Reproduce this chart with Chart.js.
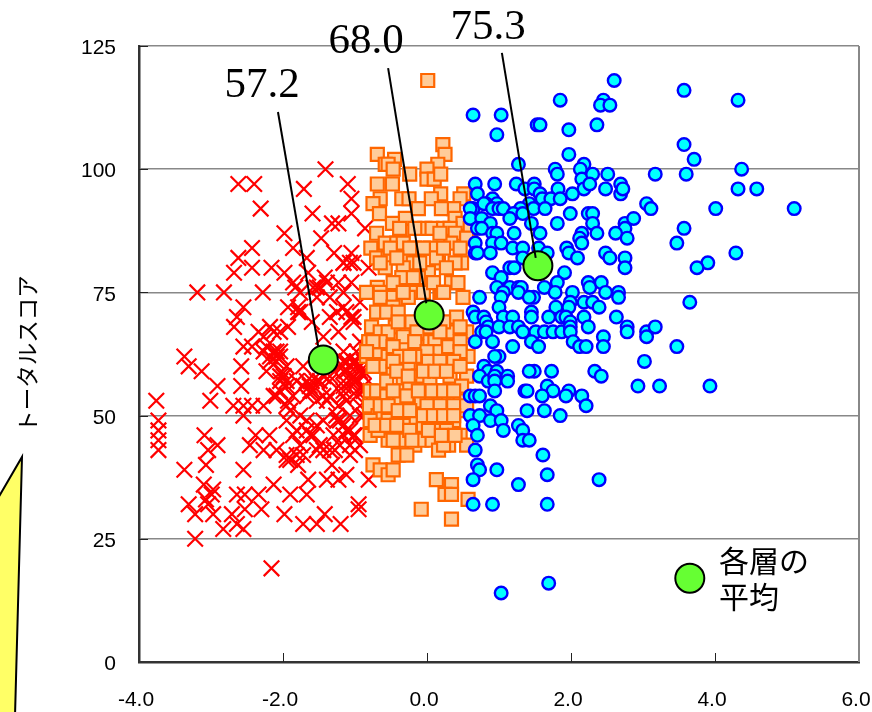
<!DOCTYPE html>
<html>
<head>
<meta charset="utf-8">
<style>
  html, body { margin: 0; padding: 0; background: #fff; overflow: hidden; }
  canvas { display: block; }
</style>
<script src="https://cdn.jsdelivr.net/npm/chart.js@4/dist/chart.umd.js"></script>
</head>
<body>
<canvas id="chart" width="872" height="712"></canvas>
<script>
// [ability, total score]
const lowGroup = [
  [-1.41,100],[-2.62,97],[-2.40,97],[-1.71,96],[-1.10,97],[-1.05,94],[-2.31,92],[-1.59,91],[-1.05,91],[-1.32,89],
  [-1.23,89],[-0.86,88],[-1.98,87],[-1.47,86],[-2.43,84],[-1.86,84],[-2.62,82],[-2.43,80],[-2.16,80],[-2.68,79],
  [-1.98,79],[-1.05,83],[-1.29,83],[-1.67,82],[-1.07,81],[-1.16,81],[-0.81,80],[-3.19,75],[-2.82,75],[-2.28,75],
  [-1.86,77],[-1.83,76],[-1.65,79],[-1.42,78],[-1.23,77],[-1.05,77],[-1.53,76],[-1.35,74],[-1.76,75],[-2.55,72],
  [-2.64,70],[-2.68,68],[-1.93,72],[-1.79,71],[-1.16,72],[-1.35,70],[-1.05,70],[-1.02,69],[-1.60,69],[-2.34,67],
  [-2.18,68],[-1.93,68],[-2.23,64],[-2.13,63],[-2.04,62],[-2.55,64],[-2.43,64],[-1.44,66],[-1.23,67],[-0.93,65],
  [-3.37,62],[-3.31,60],[-3.13,59],[-2.58,60],[-2.91,56],[-2.58,56],[-2.23,59],[-2.02,59],[-1.95,57],[-1.72,60],
  [-0.98,60],[-1.16,59],[-0.88,61],[-3.76,53],[-3.73,49],[-3.73,47],[-3.73,45],[-3.73,43],[-3.01,53],[-2.69,52],
  [-2.55,52],[-2.43,52],[-2.27,52],[-2.13,54],[-2.55,50],[-2.04,55],[-1.93,53],[-1.90,51],[-1.72,56],[-1.60,57],
  [-1.53,53],[-1.39,53],[-1.23,52],[-1.02,57],[-0.88,56],[-0.93,52],[-1.67,49],[-1.21,49],[-1.12,47],[-3.09,46],
  [-2.91,44],[-3.04,43],[-2.46,44],[-2.38,46],[-2.19,46],[-2.27,43],[-2.09,43],[-1.86,46],[-1.95,41],[-1.79,40],
  [-1.58,46],[-1.44,43],[-1.28,43],[-1.00,43],[-1.07,42],[-1.72,42],[-1.32,40],[-3.07,40],[-3.37,39],[-2.55,39],
  [-1.65,37],[-0.81,37],[-1.12,38],[-1.39,37],[-1.23,37],[-3.10,36],[-2.97,35],[-2.99,34],[-3.07,33],[-2.13,36],
  [-2.64,34],[-2.34,34],[-2.53,34],[-1.90,34],[-1.67,34],[-3.31,32],[-3.22,30],[-3.04,32],[-2.97,30],[-2.71,30],
  [-2.53,31],[-2.30,31],[-1.98,30],[-1.42,30],[-0.95,32],[-0.95,31],[-1.72,28],[-1.53,28],[-1.20,28],[-2.64,28],
  [-2.83,27],[-2.55,27],[-3.22,25],[-2.16,19],[-1.35,61],[-1.17,60],[-0.98,61],[-1.53,57],[-1.35,57],[-1.16,57],
  [-1.44,54],[-1.16,54],[-1.67,54],[-1.26,50],[-1.07,50],[-0.88,50],[-1.76,50],[-1.95,49],[-1.81,47],[-1.53,48],
  [-1.30,46],[-1.02,46],[-1.21,44],[-1.53,43],[-1.81,42],[-1.12,59],[-0.88,59],[-1.16,63],[-0.98,63],[-1.53,74],
  [-1.16,75],[-0.93,73],[-1.25,71],[-2.04,67],[-2.27,66],[-2.09,63],[-1.95,60],[-1.81,57],[-1.63,56],[-1.44,58],
  [-0.98,57],[-1.16,56],
  [-2.09,62],[-2.18,61],[-2.04,58],[-1.95,56],[-2.09,54],[-1.86,54],[-1.95,52],[-1.62,55],[-1.49,57],[-1.35,54],
  [-1.07,60],[-0.93,59],[-1.16,61],[-1.07,57],[-0.98,54],[-0.88,55],[-1.12,53],[-0.93,50],[-1.25,49],[-1.16,48],
  [-1.07,47],[-1.00,46],[-0.93,44],[-1.07,44],[-1.16,46],[-1.44,49],[-1.67,47],[-1.62,46],[-1.76,44],[-1.95,42],
  [-1.90,41],[-1.49,44],[-1.35,43],[-1.16,81],[-1.02,81],[-1.49,76],[-1.58,76],[-1.39,77],[-1.79,72],[-1.76,71],
  [-1.12,71],[-1.02,70],[-2.13,67],[-2.27,63],[-2.04,63],[-2.18,62],[-2.09,61],[-1.99,58],[-2.04,57],[-1.67,57],
  [-1.58,55],[-1.35,58],[-1.12,61],[-1.02,61],[-0.93,60],[-0.88,58],[-1.02,58],[-1.16,55],[-0.98,55]
];
const midGroup = [
  [0.01,118],[0.22,105],[0.25,103],[-0.69,103],[-0.45,102],[-0.58,101],[-0.54,101],[0.15,101],[0.00,100],[-0.47,100],
  [-0.24,99],[0.00,98],[0.10,98],[0.19,99],[-0.69,97],[-0.48,97],[0.19,95],[0.51,95],[0.46,94],[-0.65,94],
  [-0.35,94],[-0.25,94],[0.06,94],[-0.75,93],[-0.12,92],[-0.66,91],[0.37,92],[0.20,92],[-0.30,90],[-0.48,89],
  [0.39,90],[0.50,89],[-0.70,87],[-0.03,88],[0.07,88],[0.23,88],[0.32,88],[0.39,87],[0.60,88],[-0.58,85],
  [-0.78,84],[-0.42,85],[-0.33,85],[-0.17,84],[0.05,84],[0.33,85],[0.55,86],[-0.70,82],[-0.54,82],[-0.33,82],
  [-0.19,81],[0.16,81],[0.48,81],[0.39,81],[0.13,82],[-0.58,80],[-0.33,80],[0.02,79],[-0.35,78],[-0.12,78],
  [0.34,77],[0.43,77],[-0.69,76],[-0.17,75],[-0.05,75],[0.18,75],[0.50,74],[-0.51,74],[-0.65,75],[-0.26,74],
  [-0.84,75],[-0.65,74],[-0.47,72],[-0.70,71],[-0.56,71],[-0.40,71],[0.20,75],[0.41,70],[0.55,67],[-0.77,68],
  [-0.65,67],[-0.44,68],[-0.28,67],[-0.54,67],[-0.03,65],[0.11,65],[0.32,67],[-0.81,65],[-0.70,63],[-0.54,62],
  [-0.33,64],[-0.14,64],[0.13,63],[0.30,64],[0.57,62],[-0.84,62],[-0.65,60],[-0.26,60],[-0.12,58],[0.04,57],
  [0.32,58],[0.55,58],[-0.47,59],[-0.33,57],[0.48,56],[-0.79,55],[-0.70,55],[-0.56,54],[-0.38,55],[-0.19,55],
  [-0.03,55],[0.16,55],[0.30,54],[0.46,53],[-0.80,52],[-0.61,52],[-0.47,51],[-0.33,51],[-0.14,50],[0.02,50],
  [0.27,51],[-0.68,50],[-0.49,50],[0.16,50],[0.46,51],[-0.79,49],[-0.65,48],[-0.17,49],[0.11,47],[0.37,49],
  [-0.79,46],[-0.61,47],[-0.44,46],[-0.33,45],[-0.17,44],[-0.07,45],[0.07,45],[0.30,44],[0.16,43],[0.46,46],
  [0.55,44],[-0.54,45],[-0.40,42],[-0.28,42],[-0.75,40],[-0.65,39],[-0.54,38],[-0.47,39],[0.13,37],[0.34,36],
  [0.25,34],[0.34,34],[0.57,33],[-0.08,31],[0.34,29],[-0.40,69],[-0.21,69],[0.02,68],[0.23,69],[0.46,68],
  [-0.14,67],[0.18,67],[-0.33,66],[-0.17,65],[0.46,65],[-0.65,65],[-0.47,64],[0.00,63],[0.46,63],[-0.38,62],
  [-0.17,62],[0.02,61],[0.18,61],[0.37,61],[-0.47,61],[-0.05,59],[0.18,59],[-0.56,57],[-0.24,56],[0.07,55],
  [-0.12,53],[-0.38,53],[-0.26,52],[0.18,52],[0.37,52],[0.55,52],[0.00,52],[-0.68,47],[-0.33,48],[-0.05,48],
  [0.27,47],[-0.54,49],[0.23,44],
  [-0.75,65],[-0.84,63],[-0.75,60],[-0.42,59],[-0.24,62],[0.11,59],[0.27,59],[0.46,60],[-0.26,58],[-0.47,55],
  [-0.28,54],[-0.12,55],[0.23,55],[0.37,55],[-0.65,52],[-0.54,52],[-0.40,51],[-0.24,51],[-0.05,50],[0.09,50],
  [0.23,50],[0.37,50],[-0.72,48],[-0.56,48],[-0.42,48],[-0.24,47],[0.02,47],[0.20,46],[0.39,46],[-0.47,45],
  [-0.21,45],[-0.38,88],[-0.17,88],[0.18,87],[-0.51,84],[-0.24,84],[-0.05,84],[0.23,84],[0.46,84],[-0.65,81],
  [-0.42,82],[-0.10,81],[0.27,80],[-0.19,78],[0.09,77],[0.23,75],[-0.47,77],[-0.33,75]
];
const highGroup = [
  [2.60,118],[1.85,114],[2.45,114],[2.41,113],[2.54,113],[0.64,111],[1.03,111],[1.53,109],[1.57,109],[2.36,109],
  [0.97,107],[1.97,108],[1.97,103],[1.27,101],[1.78,100],[1.81,99],[2.18,101],[2.13,100],[2.15,98],[2.30,99],
  [2.51,99],[3.17,99],[0.67,97],[0.94,97],[1.24,97],[1.36,96],[1.49,97],[1.49,96],[1.82,96],[2.18,96],
  [2.26,97],[2.48,96],[2.69,97],[2.69,95],[2.72,96],[2.02,95],[1.57,95],[1.60,94],[1.72,94],[1.85,94],
  [0.91,94],[0.70,95],[1.42,93],[0.97,93],[0.82,93],[0.64,92],[0.60,92],[0.79,93],[0.91,92],[1.00,92],
  [1.06,92],[1.30,92],[1.48,92],[1.64,92],[1.20,91],[1.33,91],[1.99,91],[2.24,91],[2.30,91],[3.05,93],
  [3.11,92],[0.60,90],[0.76,90],[1.15,90],[1.45,89],[1.81,89],[0.88,89],[2.30,89],[2.75,89],[2.87,90],
  [2.75,88],[0.70,88],[0.76,88],[0.91,87],[0.97,87],[1.21,87],[1.57,87],[2.15,87],[2.36,87],[2.62,87],
  [2.78,86],[2.12,86],[2.15,85],[0.67,85],[0.91,85],[1.03,85],[1.19,84],[1.33,84],[1.55,84],[1.94,84],
  [1.97,83],[1.67,83],[2.48,83],[2.09,82],[2.54,82],[2.75,82],[2.75,80],[0.67,83],[0.70,83],[0.88,83],
  [1.33,82],[1.15,80],[1.21,80],[0.91,79],[1.03,78],[1.91,79],[1.63,76],[1.81,77],[2.24,77],[2.26,76],
  [2.42,77],[0.97,76],[1.15,76],[1.27,76],[1.31,76],[1.78,75],[2.02,75],[2.48,75],[2.66,75],[1.06,75],
  [0.73,74],[1.48,74],[1.27,75],[1.42,74],[1.03,74],[2.66,74],[2.18,73],[2.30,73],[2.39,72],[1.99,73],
  [1.00,72],[1.79,72],[1.97,72],[0.64,71],[0.67,70],[0.79,70],[1.06,70],[1.19,70],[1.45,71],[1.45,70],
  [1.69,70],[1.87,70],[1.93,70],[2.18,70],[2.63,70],[0.82,69],[0.85,68],[0.76,67],[0.82,67],[1.00,68],
  [1.15,68],[1.27,68],[1.33,67],[1.51,67],[1.63,67],[1.75,67],[1.87,67],[1.99,69],[1.99,68],[1.99,67],
  [2.24,68],[2.78,68],[2.78,67],[3.05,67],[3.05,66],[3.17,68],[2.45,66],[0.91,65],[0.67,65],[1.45,65],
  [2.03,65],[2.12,64],[2.21,64],[2.45,64],[1.19,64],[1.55,64],[1.00,62],[0.94,62],[3.02,61],[1.49,59],
  [1.42,59],[1.73,59],[2.33,59],[2.42,58],[0.79,60],[0.85,59],[0.97,59],[0.73,58],[0.85,57],[0.94,58],
  [0.94,57],[1.12,58],[1.12,57],[2.93,56],[3.23,56],[0.94,55],[1.36,55],[1.39,55],[1.67,56],[1.75,55],
  [1.60,54],[1.97,55],[1.93,54],[2.15,54],[0.60,54],[0.67,54],[0.73,54],[0.88,52],[0.97,51],[2.21,52],
  [1.39,51],[1.63,51],[1.85,50],[0.60,50],[0.73,50],[0.88,49],[1.03,49],[1.06,47],[0.64,48],[0.70,46],
  [1.27,48],[1.33,47],[1.33,45],[1.42,45],[0.67,43],[1.61,42],[0.70,40],[0.73,39],[0.97,39],[1.67,38],
  [0.64,37],[1.27,36],[2.39,37],[0.64,32],[0.91,32],[1.67,32],[1.03,14],[1.69,16],[3.57,116],[4.32,114],
  [3.57,105],[3.71,102],[3.60,99],[4.37,100],[4.32,96],[4.58,96],[5.10,92],[4.01,92],[3.57,88],[3.47,85],
  [4.29,83],[3.90,81],[3.75,80],[3.65,73],[3.47,64],[3.93,56]
];
const groupMeans = [[-1.44,61.3],[0.03,70.4],[1.54,80.4]];
const meanKey = [[3.65,17]];
const meanLabels = ['57.2','68.0','75.3'];
const keyLabels = ['各層の','平均'];
const yTitle = 'トータルスコア';

// leader lines from the value labels to the mean markers
const leaders = [
  [[-2.07,111.6],[-1.51,64]],
  [[-0.54,120.5],[-0.01,72.8]],
  [[1.04,123.6],[1.51,82]]
];

const toPoints = rows => rows.map(r => ({ x: r[0], y: r[1] }));

const leaderSets = leaders.map(line => ({
  data: toPoints(line),
  showLine: true,
  borderColor: '#000',
  borderWidth: 2,
  pointRadius: 0,
  clip: false,
  order: 0
}));

const extras = {
  id: 'extras',
  beforeDatasetsDraw(chart) {
    const { ctx, chartArea: a, scales: { x, y } } = chart;
    ctx.save();
    // inward tick marks
    ctx.strokeStyle = '#222';
    ctx.lineWidth = 1;
    ctx.beginPath();
    [25, 50, 75, 100, 125].forEach(v => {
      const py = Math.round(y.getPixelForValue(v)) + 0.5;
      ctx.moveTo(a.left, py);
      ctx.lineTo(a.left + 9, py);
    });
    [-2, 0, 2, 4, 6].forEach(v => {
      const px = Math.round(x.getPixelForValue(v)) + 0.5;
      ctx.moveTo(px, a.bottom);
      ctx.lineTo(px, a.bottom - 9);
    });
    ctx.stroke();
    // right edge of the plot
    ctx.strokeStyle = '#888';
    ctx.lineWidth = 2;
    ctx.beginPath();
    ctx.moveTo(a.right, a.top);
    ctx.lineTo(a.right, a.bottom);
    ctx.stroke();
    ctx.restore();
  },
  afterDraw(chart) {
    const { ctx } = chart;
    ctx.save();
    // yellow callout shape cut off by the left edge
    ctx.fillStyle = '#ffff66';
    ctx.strokeStyle = '#000';
    ctx.lineWidth = 2;
    ctx.beginPath();
    ctx.moveTo(-3, 500);
    ctx.lineTo(22, 457);
    ctx.lineTo(15, 716);
    ctx.lineTo(-3, 716);
    ctx.closePath();
    ctx.fill();
    ctx.stroke();

    ctx.fillStyle = '#000';
    ctx.textAlign = 'center';
    ctx.textBaseline = 'middle';
    ctx.font = '43px "Liberation Serif"';
    [[262, 86], [366, 42], [488, 28]].forEach((p, i) => {
      ctx.fillText(meanLabels[i], p[0], p[1]);
    });
    ctx.textAlign = 'left';
    ctx.font = '30px "Noto Sans CJK JP"';
    ctx.fillText(keyLabels[0], 719, 561);
    ctx.fillText(keyLabels[1], 719, 597);
    ctx.restore();
  }
};

new Chart(document.getElementById('chart'), {
  type: 'scatter',
  data: {
    datasets: [
      ...leaderSets,
      {
        data: toPoints(groupMeans.concat(meanKey)),
        pointStyle: 'circle',
        pointRadius: 14.5,
        backgroundColor: '#66ff33',
        borderColor: '#000',
        borderWidth: 2,
        order: 1
      },
      {
        data: toPoints(highGroup),
        pointStyle: 'circle',
        pointRadius: 6.3,
        backgroundColor: '#00ffff',
        borderColor: '#0000ff',
        borderWidth: 2.4,
        order: 2
      },
      {
        data: toPoints(midGroup),
        pointStyle: 'rect',
        pointRadius: 9.2,
        backgroundColor: '#ffcc99',
        borderColor: '#ff6600',
        borderWidth: 2.2,
        order: 3
      },
      {
        data: toPoints(lowGroup),
        pointStyle: 'crossRot',
        pointRadius: 11,
        borderColor: '#ff0000',
        borderWidth: 2.2,
        order: 4
      }
    ]
  },
  options: {
    responsive: false,
    animation: false,
    layout: { autoPadding: false, padding: { top: 46, right: 13, bottom: 0, left: 0 } },
    plugins: {
      legend: { display: false },
      tooltip: { enabled: false }
    },
    scales: {
      x: {
        type: 'linear',
        min: -4,
        max: 6,
        afterFit(scale) {
          scale.height = 50;
          // the last label may overhang the plot, as in the original
          scale.getPadding = () => ({ left: 0, top: 0, right: 0, bottom: 0 });
        },
        grid: { display: false, drawTicks: false },
        border: { color: '#333', width: 2.5 },
        ticks: {
          stepSize: 2,
          autoSkip: false,
          maxRotation: 0,
          padding: 26,
          labelOffset: -3,
          color: '#000',
          font: { family: '"Liberation Sans"', size: 21 },
          callback: v => v.toFixed(1)
        }
      },
      y: {
        min: 0,
        max: 125,
        afterFit(scale) {
          scale.width = 139;
        },
        grid: { color: '#888', lineWidth: 1.5, drawTicks: false },
        border: { color: '#333', width: 2.5 },
        ticks: {
          stepSize: 25,
          padding: 23,
          labelOffset: 2.5,
          color: '#000',
          font: { family: '"Liberation Sans"', size: 21 }
        },
        title: {
          display: true,
          text: yTitle,
          color: '#000',
          padding: { top: 14, bottom: 0 },
          font: { family: '"Noto Sans CJK JP"', size: 22.5 }
        }
      }
    }
  },
  plugins: [extras]
});
</script>
</body>
</html>
